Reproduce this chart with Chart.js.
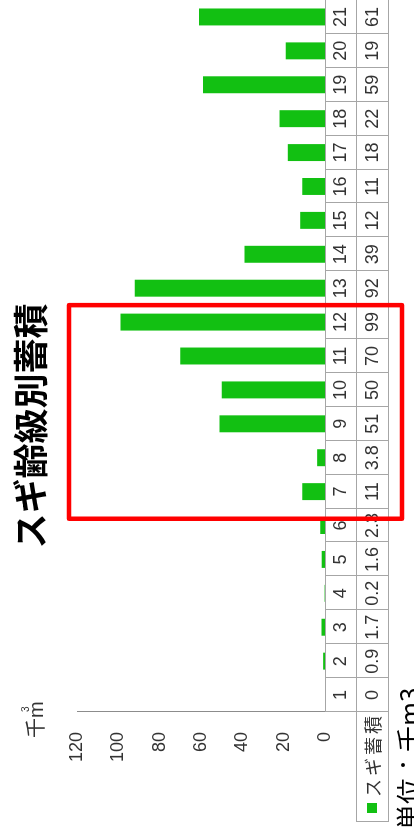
<!DOCTYPE html>
<html lang="ja">
<head>
    <meta charset="UTF-8">
    <title>スギ齢級別蓄積</title>
    <script src="https://cdn.jsdelivr.net/npm/chart.js"></script>
    <style>
        html, body { margin: 0; padding: 0; background: #fff; overflow: hidden; }
        /* chart is drawn landscape and turned a quarter turn, like the scanned page */
        #wrap {
            position: absolute; left: 0; top: 0;
            width: 829px; height: 414px;
            transform-origin: 0 0;
            transform: translate(0, 829px) rotate(-90deg);
        }
    </style>
</head>
<body>
    <div id="wrap"><canvas id="chart" width="829" height="414"></canvas></div>

    <script>
        // data
        const ageClasses = ['1','2','3','4','5','6','7','8','9','10','11','12','13','14','15','16','17','18','19','20','21'];
        const volume = [0, 0.9, 1.7, 0.2, 1.6, 2.3, 11, 3.8, 51, 50, 70, 99, 92, 39, 12, 11, 18, 22, 59, 19, 61];
        const volumeLabels = ['0','0.9','1.7','0.2','1.6','2.3','11','3.8','51','50','70','99','92','39','12','11','18','22','59','19','61'];
        const yTicks = [0, 20, 40, 60, 80, 100, 120];
        const highlight = ['7', '12'];

        const GREEN = '#12c012';
        const NUM_FONT = '"Liberation Sans", Arial, sans-serif';
        const JP_FONT = '"Noto Sans CJK JP", sans-serif';

        // table under the bars, red box, title and unit notes
        const extras = {
            id: 'extras',
            afterDraw(chart) {
                const ctx = chart.ctx;
                const x = chart.scales.x;
                const area = chart.chartArea;
                const cell = x.getPixelForValue(1) - x.getPixelForValue(0);
                const tTop = area.bottom, tMid = area.bottom + 31, tBot = area.bottom + 63;
                const tLeft = 7;

                ctx.save();
                ctx.strokeStyle = '#a6a6a6';
                ctx.lineWidth = 1;
                ctx.beginPath();
                [tTop, tMid, tBot].forEach((v, i) => {
                    ctx.moveTo(i === 0 ? area.left : tLeft, v + 0.5);
                    ctx.lineTo(area.right, v + 0.5);
                });
                ctx.moveTo(tLeft + 0.5, tMid); ctx.lineTo(tLeft + 0.5, tBot);
                for (let i = 0; i <= ageClasses.length; i++) {
                    const u = Math.round(x.getPixelForValue(i) - cell / 2) + 0.5;
                    ctx.moveTo(u, tTop); ctx.lineTo(u, tBot);
                }
                ctx.stroke();

                ctx.fillStyle = '#333';
                ctx.font = '18px ' + NUM_FONT;
                ctx.textAlign = 'center';
                ctx.textBaseline = 'middle';
                ageClasses.forEach((c, i) => {
                    const u = x.getPixelForValue(i);
                    ctx.fillText(c, u, (tTop + tMid) / 2 + 1);
                    ctx.fillText(volumeLabels[i], u, (tMid + tBot) / 2 + 1);
                });

                // legend cell
                ctx.fillStyle = GREEN;
                ctx.fillRect(16, (tMid + tBot) / 2 - 5, 10, 10);
                ctx.fillStyle = '#333';
                ctx.font = '18px ' + JP_FONT;
                ctx.textAlign = 'left';
                ['ス', 'ギ', '蓄', '積'].forEach((ch, i) => {
                    ctx.fillText(ch, 32 + i * 21, (tMid + tBot) / 2 + 1);
                });

                // red box round age classes 7-12
                const i0 = ageClasses.indexOf(highlight[0]);
                const i1 = ageClasses.indexOf(highlight[1]);
                const bx0 = x.getPixelForValue(i0) - cell * 0.8;
                const bx1 = x.getPixelForValue(i1) + cell / 2;
                ctx.strokeStyle = '#ff0000';
                ctx.lineWidth = 4.5;
                ctx.lineJoin = 'round';
                ctx.strokeRect(bx0, area.top - 8, bx1 - bx0, tBot + 14 - (area.top - 8));

                // title
                ctx.fillStyle = '#000';
                ctx.font = 'bold 35px ' + JP_FONT;
                ctx.textAlign = 'center';
                ctx.fillText('スギ齢級別蓄積', 403, 31);

                // axis unit, 千m with a small 3
                ctx.font = '20px ' + JP_FONT;
                ctx.textAlign = 'left';
                ctx.fillStyle = '#333';
                ctx.fillText('千', 91, 35);
                ctx.font = '20px ' + NUM_FONT;
                ctx.fillText('m', 111, 37);
                ctx.font = '10px ' + NUM_FONT;
                ctx.fillText('3', 117, 26);

                // note at the foot
                ctx.font = '26px ' + JP_FONT;
                ctx.fillStyle = '#000';
                ctx.fillText('単位：千m3', -1, 409);
                ctx.restore();
            }
        };

        new Chart(document.getElementById('chart'), {
            type: 'bar',
            data: {
                labels: ageClasses,
                datasets: [{
                    label: 'スギ蓄積',
                    data: volume,
                    backgroundColor: GREEN,
                    barPercentage: 0.5,
                    categoryPercentage: 1.0
                }]
            },
            options: {
                responsive: false,
                animation: false,
                devicePixelRatio: 1,
                layout: { padding: { top: 77, bottom: 89, left: 0, right: 0 } },
                plugins: {
                    legend: { display: false },
                    title: { display: false },
                    tooltip: { enabled: false }
                },
                scales: {
                    x: { display: false },
                    y: {
                        min: 0,
                        max: 120,
                        afterBuildTicks: s => { s.ticks = yTicks.map(v => ({ value: v })); },
                        afterFit: s => { s.width = 117; },
                        grid: { display: false, drawTicks: false },
                        border: { display: true, color: '#8c8c8c', width: 1 },
                        ticks: {
                            padding: 20,
                            color: '#333',
                            font: { family: NUM_FONT, size: 18 }
                        }
                    }
                }
            },
            plugins: [extras]
        });
    </script>
</body>
</html>
